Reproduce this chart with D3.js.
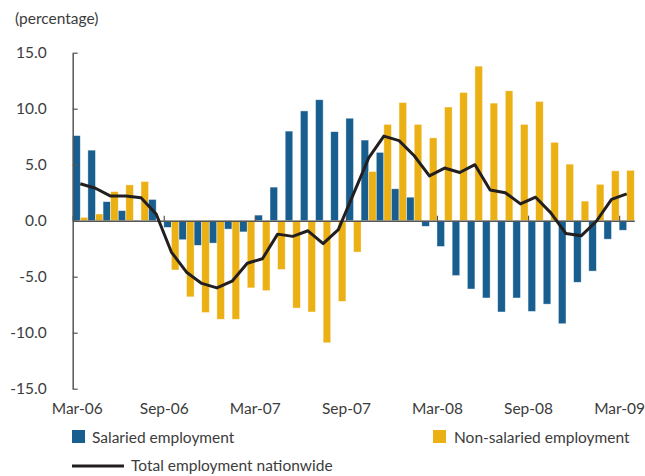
<!DOCTYPE html>
<html>
<head>
<meta charset="utf-8">
<script src="https://cdn.jsdelivr.net/npm/d3@7"></script>
<style>
  body { margin: 0; background: #fff; }
  svg { display: block; font-family: Lato, "Open Sans", sans-serif; }
</style>
</head>
<body>
<script>
// size of the picture
const width = 645;
const height = 476;

// months, one per bar group
const months = ["Mar-06","Apr-06","May-06","Jun-06","Jul-06","Aug-06","Sep-06","Oct-06","Nov-06","Dec-06","Jan-07","Feb-07",
  "Mar-07","Apr-07","May-07","Jun-07","Jul-07","Aug-07","Sep-07","Oct-07","Nov-07","Dec-07","Jan-08","Feb-08",
  "Mar-08","Apr-08","May-08","Jun-08","Jul-08","Aug-08","Sep-08","Oct-08","Nov-08","Dec-08","Jan-09","Feb-09","Mar-09"];

// tick labels on the x axis
const tickLabels = ["Mar-06","Sep-06","Mar-07","Sep-07","Mar-08","Sep-08","Mar-09"];
const yTicks = [-15, -10, -5, 0, 5, 10, 15];

// series values (percentage)
const salaried = [7.6, 6.3, 1.7, 0.9, -0.1, 1.9, -0.6, -1.7, -2.2, -2.0, -0.75, -1.0,
  0.5, 3.0, 8.0, 9.8, 10.8, 7.95, 9.15, 7.2, 6.1, 2.85, 2.1, -0.5,
  -2.3, -4.9, -6.1, -6.9, -8.15, -6.9, -8.1, -7.45, -9.2, -5.5, -4.5, -1.65, -0.85];
const nonSalaried = [0.3, 0.6, 2.6, 3.2, 3.5, -0.1, -4.4, -6.8, -8.2, -8.8, -8.8, -6.0,
  -6.25, -4.35, -7.8, -8.15, -10.9, -7.2, -2.8, 4.4, 8.6, 10.55, 8.6, 7.4,
  10.15, 11.45, 13.8, 10.5, 11.6, 8.6, 10.65, 7.0, 5.05, 1.75, 3.25, 4.45, 4.5];
const total = [3.3, 2.9, 2.2, 2.2, 2.05, 0.6, -2.8, -4.6, -5.6, -6.0, -5.4, -3.8,
  -3.4, -1.2, -1.4, -0.9, -2.05, -0.8, 2.4, 5.6, 7.55, 7.15, 5.8, 4.0,
  4.7, 4.3, 5.0, 2.75, 2.5, 1.5, 2.1, 0.7, -1.15, -1.35, -0.05, 1.9, 2.4];

const blue = "#185e8e";
const yellow = "#ebb013";
const textColor = "#3c3c3c";
const fontSize = 15.5;

const svg = d3.select("body").append("svg")
    .attr("width", width)
    .attr("height", height)
    .attr("viewBox", [0, 0, width, height]);

// scales
const x = d3.scaleBand().domain(months).range([72.7, 634.3]).padding(0);
const xSub = d3.scaleBand().domain(["sal", "non"]).range([0, x.bandwidth()]).padding(0);
const xEdge = d3.scaleLinear().domain([0, months.length]).range(x.range());
const y = d3.scaleLinear().domain([-15, 15]).range([388.7, 52.7]);

// unit label
svg.append("text")
    .attr("x", 15).attr("y", 24)
    .attr("fill", textColor)
    .attr("font-size", fontSize)
    .text("(percentage)");

// bars
const groups = svg.append("g")
  .selectAll("g")
  .data(months)
  .join("g")
    .attr("transform", d => `translate(${x(d)},0)`);

groups.append("rect")
    .attr("x", xSub("sal"))
    .attr("width", xSub.bandwidth())
    .attr("y", (d, i) => y(Math.max(0, salaried[i])))
    .attr("height", (d, i) => Math.abs(y(salaried[i]) - y(0)))
    .attr("fill", blue)
    .attr("stroke", "#fff").attr("stroke-opacity", 0.6).attr("stroke-width", 0.7);

groups.append("rect")
    .attr("x", xSub("non"))
    .attr("width", xSub.bandwidth())
    .attr("y", (d, i) => y(Math.max(0, nonSalaried[i])))
    .attr("height", (d, i) => Math.abs(y(nonSalaried[i]) - y(0)))
    .attr("fill", yellow)
    .attr("stroke", "#fff").attr("stroke-opacity", 0.6).attr("stroke-width", 0.7);

// y axis
const yAxis = svg.append("g")
    .attr("transform", `translate(${x.range()[0]},0)`)
    .call(d3.axisLeft(y).tickValues(yTicks).tickSize(-5).tickSizeOuter(0).tickPadding(26)
      .tickFormat(d3.format(".1f")));
yAxis.select(".domain").attr("stroke", "#555").attr("stroke-width", 1.5);
yAxis.selectAll(".tick line").attr("stroke", "#555").attr("stroke-width", 1.2);
yAxis.selectAll(".tick text")
    .attr("fill", textColor)
    .attr("font-size", fontSize)
    .attr("font-family", "Lato, 'Open Sans', sans-serif")
    .text(d => d < 0 ? "-" + d3.format(".1f")(-d) : d3.format(".1f")(d));

// zero line with ticks every six months
const tickIdx = tickLabels.map(t => months.indexOf(t));
const zeroAxis = svg.append("g")
    .attr("transform", `translate(0,${y(0)})`)
    .call(d3.axisTop(xEdge).tickValues(tickIdx).tickSize(5).tickSizeOuter(0).tickFormat(""));
zeroAxis.select(".domain").attr("stroke", "#555").attr("stroke-width", 1.5);
zeroAxis.selectAll(".tick line").attr("stroke", "#555").attr("stroke-width", 1.2);

// month labels at the bottom
const xAxis = svg.append("g")
    .attr("transform", `translate(0,399)`)
    .call(d3.axisBottom(xEdge).tickValues(tickIdx).tickSize(0).tickPadding(4)
      .tickFormat((d, i) => tickLabels[i]));
xAxis.select(".domain").remove();
xAxis.selectAll(".tick text")
    .attr("fill", textColor)
    .attr("font-size", fontSize)
    .attr("font-family", "Lato, 'Open Sans', sans-serif");
xAxis.select(".tick text").attr("dx", 4);

// total employment line
const line = d3.line()
    .x((d, i) => x(months[i]) + x.bandwidth() / 2)
    .y(d => y(d));

svg.append("path")
    .datum(total)
    .attr("fill", "none")
    .attr("stroke", "#231f20")
    .attr("stroke-width", 3)
    .attr("stroke-linejoin", "round")
    .attr("d", line);

// legend
const legend = svg.append("g")
    .attr("font-size", fontSize)
    .attr("fill", textColor);

legend.append("rect").attr("x", 72).attr("y", 430).attr("width", 13).attr("height", 13).attr("fill", blue);
legend.append("text").attr("x", 92).attr("y", 443).text("Salaried employment");

legend.append("rect").attr("x", 433).attr("y", 430).attr("width", 13).attr("height", 13).attr("fill", yellow);
legend.append("text").attr("x", 454).attr("y", 443).text("Non-salaried employment");

legend.append("line").attr("x1", 72).attr("x2", 124).attr("y1", 466).attr("y2", 466)
    .attr("stroke", "#231f20").attr("stroke-width", 3);
legend.append("text").attr("x", 131).attr("y", 471).text("Total employment nationwide");
</script>
</body>
</html>
